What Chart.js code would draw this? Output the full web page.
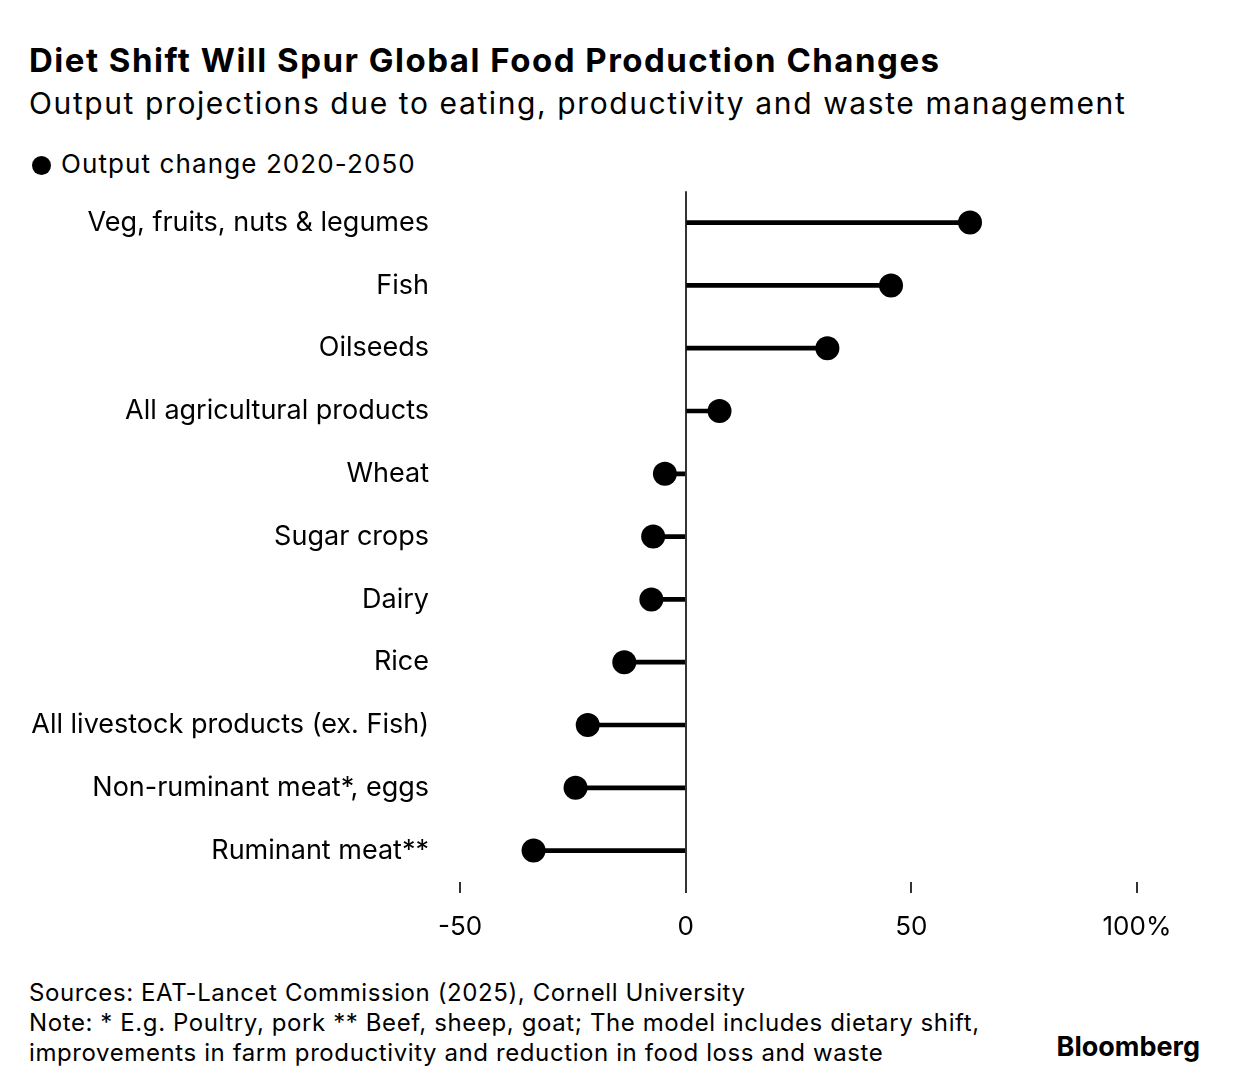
<!DOCTYPE html>
<html>
<head>
<meta charset="utf-8">
<script src="https://cdn.jsdelivr.net/npm/chart.js@4.4.1/dist/chart.umd.min.js"></script>
<style>
  body { margin: 0; background: #fff; font-family: Inter, "Liberation Sans", Arial, sans-serif; color: #000; }
  #wrap { position: relative; width: 1240px; height: 1092px; overflow: hidden; }
  .title { position: absolute; left: 29px; top: 40px; font-size: 33px; font-weight: bold; letter-spacing: 1.5px; white-space: nowrap; }
  .sub { position: absolute; left: 29px; top: 85px; font-size: 30px; letter-spacing: 1.6px; white-space: nowrap; }
  .legend { position: absolute; left: 32px; top: 148px; font-size: 26px; letter-spacing: 1.1px; white-space: nowrap; }
  .legend span.dot { display: inline-block; width: 19px; height: 19px; border-radius: 50%; background: #000; margin-right: 10px; vertical-align: -2px; }
  .foot { position: absolute; left: 29px; top: 978px; font-size: 24px; letter-spacing: 0.6px; line-height: 30px; white-space: nowrap; }
  .logo { position: absolute; right: 40px; top: 1030px; font-size: 27px; font-weight: bold; letter-spacing: 0px; }
  #chartBox { position: absolute; left: 0; top: 144px; width: 1240px; height: 808px; }
</style>
</head>
<body>
<div id="wrap">
  <div class="title">Diet Shift Will Spur Global Food Production Changes</div>
  <div class="sub">Output projections due to eating, productivity and waste management</div>
  <div class="legend"><span class="dot"></span>Output change 2020-2050</div>
  <div id="chartBox"><canvas id="lolli"></canvas></div>
  <div class="foot">Sources: EAT-Lancet Commission (2025), Cornell University<br>Note: * E.g. Poultry, pork ** Beef, sheep, goat; The model includes dietary shift,<br>improvements in farm productivity and reduction in food loss and waste</div>
  <div class="logo">Bloomberg</div>
</div>
<script>
const categories = [
  "Veg, fruits, nuts & legumes",
  "Fish",
  "Oilseeds",
  "All agricultural products",
  "Wheat",
  "Sugar crops",
  "Dairy",
  "Rice",
  "All livestock products (ex. Fish)",
  "Non-ruminant meat*, eggs",
  "Ruminant meat**"
];
const outputChange = [63, 45.5, 31.4, 7.5, -4.6, -7.2, -7.6, -13.6, -21.7, -24.4, -33.7];
const xTicks = [-50, 0, 50, 100];

const ctx = document.getElementById("lolli");

const chart = new Chart(ctx, {
  data: {
    labels: categories,
    datasets: [
      {
        type: "line",
        label: "Output change 2020-2050",
        data: outputChange,
        showLine: false,
        pointRadius: 12,
        pointHoverRadius: 12,
        pointBackgroundColor: "#000",
        pointBorderWidth: 0,
        order: 0,
      },
      {
        type: "bar",
        label: "stem",
        data: outputChange,
        backgroundColor: "#000",
        barThickness: 4,
        order: 1,
      },
    ],
  },
  options: {
    indexAxis: "y",
    responsive: true,
    maintainAspectRatio: false,
    animation: false,
    layout: { padding: { top: 11, right: 103, bottom: 0, left: 0 } },
    plugins: {
      legend: { display: false },
      tooltip: { enabled: false },
    },
    scales: {
      x: {
        type: "linear",
        min: -50,
        max: 100,
        afterBuildTicks: (scale) => {
          scale.ticks = xTicks.map((v) => ({ value: v }));
        },
        afterFit: (scale) => { scale.height = 70; },
        border: { display: false },
        grid: {
          color: (c) => (c.tick && c.tick.value === 0 ? "#333" : "rgba(0,0,0,0)"),
          tickColor: "#333",
          tickLength: 11,
          lineWidth: 2,
          tickWidth: 2,
        },
        ticks: {
          padding: 19,
          color: "#000",
          font: { family: "Inter", size: 26 },
          callback: (v) => (v === 100 ? "100%" : v),
        },
      },
      y: {
        type: "category",
        offset: true,
        afterFit: (scale) => { scale.width = 460; },
        border: { display: false },
        grid: { display: false, drawTicks: false },
        ticks: {
          padding: 31,
          color: "#000",
          font: { family: "Inter", size: 27 },
        },
      },
    },
  },
});
</script>
</body>
</html>
